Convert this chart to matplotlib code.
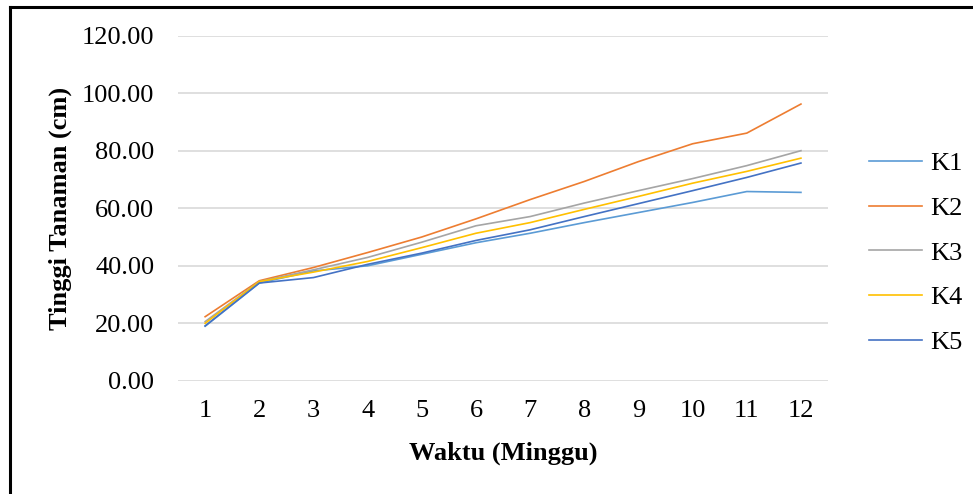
import matplotlib.pyplot as plt
from matplotlib.lines import Line2D

plt.rcParams['font.family'] = ['Liberation Serif', 'DejaVu Serif']

# tinggi tanaman (cm) per minggu
minggu = [1, 2, 3, 4, 5, 6, 7, 8, 9, 10, 11, 12]
k1 = [19.0, 34.0, 38.2, 40.0, 44.0, 48.0, 51.3, 55.0, 58.5, 62.0, 65.8, 65.5]
k2 = [22.3, 34.8, 39.4, 44.6, 50.0, 56.3, 63.0, 69.3, 76.2, 82.4, 86.1, 96.2]
k3 = [20.6, 34.5, 38.6, 42.9, 48.2, 53.9, 57.1, 61.8, 66.1, 70.3, 74.8, 80.0]
k4 = [20.0, 34.5, 37.8, 41.5, 46.3, 51.3, 55.0, 59.6, 64.1, 68.7, 72.8, 77.4]
k5 = [19.1, 34.0, 35.9, 40.5, 44.4, 48.8, 52.5, 57.1, 61.6, 66.1, 70.7, 75.7]

seri = [('K1', k1, '#5B9BD5'), ('K2', k2, '#ED7D31'), ('K3', k3, '#A5A5A5'),
        ('K4', k4, '#FFC000'), ('K5', k5, '#4472C4')]

fig = plt.figure(figsize=(9.73, 4.94), dpi=100)
ax = fig.add_axes([0.183, 0.229, 0.668, 0.699])

for nama, y, warna in seri:
    ax.plot(minggu, y, color=warna, linewidth=1.2, label=nama, zorder=3)

ax.set_xlim(0.5, 12.5)
ax.set_ylim(0, 120)
ax.set_yticks(range(0, 121, 20))
ax.set_yticklabels(['%.2f' % v for v in range(0, 121, 20)])
ax.set_xticks(minggu)
ax.grid(axis='y', color='#D9D9D9', linewidth=1.2)
ax.tick_params(length=0, labelsize=19)
ax.tick_params(axis='y', pad=17)
ax.tick_params(axis='x', pad=14)
for s in ax.spines.values():
    s.set_visible(False)

ax.set_xlabel('Waktu (Minggu)', fontsize=19, fontweight='bold', labelpad=14)
ax.set_ylabel('Tinggi Tanaman (cm)', fontsize=19, fontweight='bold', labelpad=7)

fig.legend(loc='center left', bbox_to_anchor=(0.869, 0.488), frameon=False,
           fontsize=19, handlelength=2.0, handletextpad=0.3, labelspacing=0.8)

# bingkai kiri dan atas
fig.add_artist(Line2D([10 / 973, 1], [1 - 7 / 494, 1 - 7 / 494], color='black', linewidth=2.2))
fig.add_artist(Line2D([10 / 973, 10 / 973], [0, 1 - 7 / 494], color='black', linewidth=2.2))

plt.savefig('out.png', dpi=100)
